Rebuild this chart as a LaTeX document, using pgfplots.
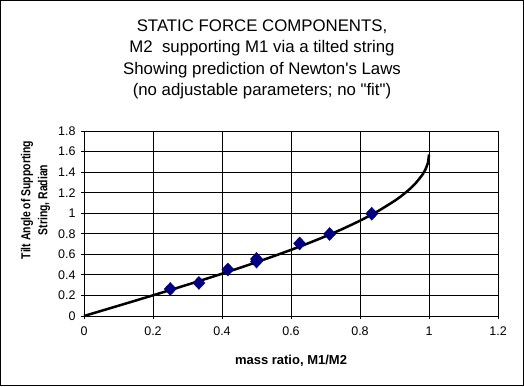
\documentclass[border=0pt]{standalone}
\usepackage{pgfplots}
\pgfplotsset{compat=1.18}
\usepackage{graphicx}
\usepackage{fontspec}
\setmainfont{Liberation Sans}[Ligatures=TeXOff]
\definecolor{navyd}{RGB}{0,0,128}
\begin{document}
\begin{tikzpicture}[x=1bp,y=1bp]
\useasboundingbox (0,0) rectangle (524,386);
\draw[line width=1bp] (0.5,0.5) rectangle (523.5,385.5);
\node[align=center,font=\fontsize{16.8bp}{21.5bp}\selectfont] at (262,326.5)
 {STATIC FORCE COMPONENTS,\\M2\ \ supporting M1 via a tilted string\\Showing prediction of Newton's Laws\\(no adjustable parameters; no "fit")};
\begin{axis}[
  at={(84bp,70bp)}, anchor=south west,
  scale only axis, width=414bp, height=185bp,
  xmin=0, xmax=1.2, ymin=0, ymax=1.8,
  xtick={0,0.2,...,1.2}, ytick={0,0.2,...,1.8},
  grid=major, major grid style={black, line width=0.8bp},
  axis x line=bottom, axis y line=left,
  axis line style={black, line width=0.8bp, -},
  tick style={black, line width=0.8bp},
  tick align=center, major tick length=6bp,
  /pgf/number format/assume math mode=true,
  /pgf/number format/fixed,
  ticklabel style={font=\fontsize{12.5bp}{14bp}\selectfont},
  xticklabel style={yshift=-4bp},
  yticklabel style={xshift=-2bp},
  xlabel={\textbf{mass ratio, M1/M2}},
  xlabel style={font=\fontsize{13bp}{15bp}\selectfont, at={(axis description cs:0.5,0)}, anchor=center, yshift=-45bp},
  ylabel={\scalebox{0.8}[1]{\begin{tabular}{@{}c@{}}\textbf{Tilt Angle of Supporting}\\[2bp]\textbf{String, Radian}\end{tabular}}},
  ylabel style={align=center, font=\fontsize{13bp}{15bp}\selectfont, at={(axis description cs:-0.116,0.627)}, anchor=center},
  clip=false,
]
\addplot[black, line width=2.5bp, smooth, tension=0.3] coordinates {
(0,0) (0.05,0.05002) (0.1,0.10017) (0.15,0.15057) (0.2,0.20136) (0.25,0.25268)
(0.3,0.30469) (0.35,0.35757) (0.4,0.41152) (0.45,0.46677) (0.5,0.52360)
(0.55,0.58236) (0.6,0.64350) (0.65,0.70758) (0.7,0.77540) (0.75,0.84806)
(0.8,0.92730) (0.85,1.01599) (0.9,1.11977) (0.92,1.16808) (0.94,1.22263)
(0.96,1.28700) (0.98,1.37046) (0.99,1.42925) (0.997,1.49327) (1.0,1.57080)
};
\addplot[only marks, mark=diamond*, mark size=6.5bp, color=navyd, mark options={xscale=1.25, fill=navyd, draw=navyd}] coordinates {
(0.25,0.263) (0.333,0.322) (0.417,0.453) (0.5,0.53) (0.5,0.555)
(0.625,0.706) (0.712,0.798) (0.834,0.995)
};
\end{axis}
\end{tikzpicture}
\end{document}
